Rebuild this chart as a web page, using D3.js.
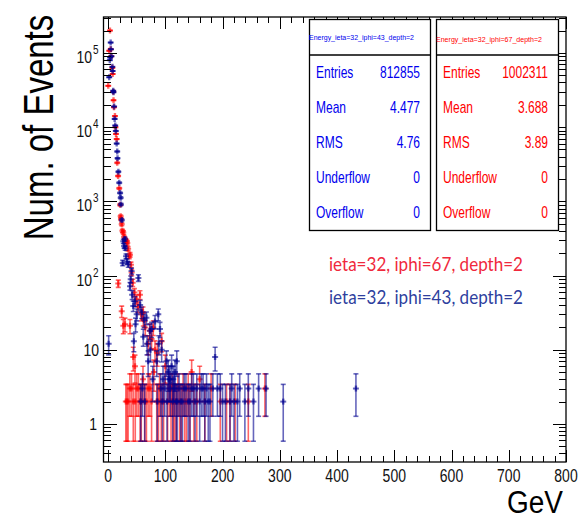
<!DOCTYPE html>
<html><head><meta charset="utf-8">
<script src="https://cdn.jsdelivr.net/npm/d3@7"></script>
<style>body{margin:0;background:#fff}svg{display:block}</style>
</head><body><svg id="c" width="580" height="519"></svg>
<script>
// ---------- data ----------
const xMajorTicks = [0,100,200,300,400,500,600,700,800];
const yMajorTicks = [1,10,100,1000,10000,100000];
const yTickExp = ["","","2","3","4","5"];
const yTickBase = ["1","10","10","10","10","10"];

const blueE = [1,2,3,3.5,4.5,5,6,7.5,8,9,9.5,10.5,11.5,12.5,13.5,15,16,16.5,18,19.5,21,22,22.5,24,25.5,26.6,28,29.5,30,31.3,33,35.3,38.3,39.5,41,42,44,45,47,48,50,53,56,58.7,61.5,63,67,68,70,73,74,76,82,85,87.7,88.5,90.7,93.6,96,102,105,108,111,114,117,120,
  57,60,64,78,86,92,95,99,103,106,109,113,116,119,121,124,127,130,133,136,140,143,146,149,152,155,160,163,166,169,172,175,178,183,187,191,196,200,205,213,216,220,226,230,239,245,254,263,276,306,433];
const blueN = [12,47000,80000,87000,138000,112000,90000,65000,57000,31000,29500,19000,12900,10500,8900,6000,4700,3800,2500,1780,1300,1120,910,560,148,290,250,310,234,182,155,141,72,89,115,55,39,13,45,22,30,93,40,32,15,25,27,12,7,18,10,19,24,7,30,12,19,10,4,7,5,4,6,4,5,7,
  2,3,2,4,2,3,2,3,2,4,3,2,3,2,2,3,2,2,3,3,2,2,3,3,2,3,2,3,3,2,3,2,2,3,8,3,3,2,2,2,3,2,2,3,2,3,2,3,3,2,3];

const redE = [0.3,2,3.3,4.5,5.5,7.5,8,9,9.5,10.3,12,13,13.8,15,16,17.5,19.5,21,22,22.5,23.8,25,26.6,28,30,32.5,33.5,35,37,38.3,40,41.2,43,46,49.5,52,55.7,58,61,61.5,65,70,73,76,79,82,86,93.6,
  17.8,23.8,26.6,29.5,38.3,44,47,
  31,33,35,38,41,44,47.5,50,53,56,58,61,64,67,70,73,76,80,85,88,90,93,97,100,104,107,110,112,114,116,119,122,125,128,131,134,137,140,143,146,150,155,160,169,180,196,207,213,222,245,274];
const redN = [36000,107000,200000,112000,90000,63000,52000,30000,23000,18600,14100,10000,8100,6900,3300,2200,1500,900,630,575,490,400,380,330,300,290,275,230,182,190,140,110,80,59,48,38,55,30,32,26,20,12,18,14,20,10,9,13,
  78,33,21,22,21,8,6,
  2,2,2,3,3,2,2,3,3,2,2,4,2,2,3,3,2,5,2,2,3,2,2,6,2,3,2,3,2,2,2,3,2,2,3,2,2,3,2,5,2,2,4,2,3,2,2,2,2,2,3];

const statLabels = ["Entries","Mean","RMS","Underflow","Overflow"];
const blueStats = ["812855","4.477","4.76","0","0"];
const redStats = ["1002311","3.688","3.89","0","0"];
const blueTitle = "Energy_ieta=32_iphi=43_depth=2";
const redTitle = "Energy_ieta=32_iphi=67_depth=2";
const legendRed = "ieta=32, iphi=67, depth=2";
const legendBlue = "ieta=32, iphi=43, depth=2";
const xTitle = "GeV";
const yTitle = "Num. of Events";

// ---------- layout ----------
const L = 103.5, R = 566, T = 17, B = 462;
const svg = d3.select("#c");
const x = d3.scaleLinear().domain([-8, 800]).range([L, R]);
const y = d3.scaleLog().domain([0.307, 3.05e5]).range([B, T]);
const FONT = "'Liberation Sans', Arial, sans-serif";

svg.append("defs").append("clipPath").attr("id","clip")
  .append("rect").attr("x",L).attr("y",T).attr("width",R-L).attr("height",B-T);

// ---------- data marks ----------
function drawSeries(E, N, color, op) {
  const g = svg.append("g").attr("clip-path","url(#clip)")
    .attr("stroke", color).attr("stroke-opacity", op).attr("fill","none");
  E.forEach((e, i) => {
    const n = N[i], s = Math.sqrt(n);
    const cx = x(e), cy = y(n);
    const yh = y(n + s);
    const yl = (n - s) > 0 ? y(n - s) : B + 10;
    const bar = n > 200 ? 2.2 : 1.6;
    g.append("line").attr("x1",cx).attr("x2",cx).attr("y1",yh).attr("y2",yl).attr("stroke-width",bar);
    g.append("line").attr("x1",cx-2.5).attr("x2",cx+2.5).attr("y1",yh).attr("y2",yh).attr("stroke-width",1.6);
    if (n - s > 0) g.append("line").attr("x1",cx-2.5).attr("x2",cx+2.5).attr("y1",yl).attr("y2",yl).attr("stroke-width",1.6);
    g.append("line").attr("x1",cx-3).attr("x2",cx+3).attr("y1",cy).attr("y2",cy).attr("stroke-width",2);
    g.append("line").attr("x1",cx).attr("x2",cx).attr("y1",cy-3).attr("y2",cy+3).attr("stroke-width",2.4);
  });
}
drawSeries(redE, redN, "#ff0000", 0.6);
drawSeries(blueE, blueN, "#000090", 0.6);

// ---------- axes ----------
const xMinor = d3.range(0, 801, 20).filter(v => v % 100 !== 0);
const yMinor = [];
for (let p = -1; p <= 5; p++) for (let k = 2; k <= 9; k++) {
  const v = k * Math.pow(10, p);
  if (v > y.domain()[0] && v < y.domain()[1]) yMinor.push(v);
}
function styleAxis(g) {
  g.select(".domain").remove();
  g.selectAll(".tick line").attr("stroke","#000").attr("stroke-width",1).attr("shape-rendering","crispEdges");
  g.selectAll(".tick text").remove();
}
svg.append("g").attr("transform",`translate(0,${B})`).call(d3.axisTop(x).tickValues(xMajorTicks).tickSize(12)).call(styleAxis);
svg.append("g").attr("transform",`translate(0,${B})`).call(d3.axisTop(x).tickValues(xMinor).tickSize(6)).call(styleAxis);
svg.append("g").attr("transform",`translate(0,${T})`).call(d3.axisBottom(x).tickValues(xMajorTicks).tickSize(12)).call(styleAxis);
svg.append("g").attr("transform",`translate(0,${T})`).call(d3.axisBottom(x).tickValues(xMinor).tickSize(6)).call(styleAxis);
svg.append("g").attr("transform",`translate(${L},0)`).call(d3.axisRight(y).tickValues(yMajorTicks).tickSize(13)).call(styleAxis);
svg.append("g").attr("transform",`translate(${L},0)`).call(d3.axisRight(y).tickValues(yMinor).tickSize(7)).call(styleAxis);
svg.append("g").attr("transform",`translate(${R},0)`).call(d3.axisLeft(y).tickValues(yMajorTicks).tickSize(13)).call(styleAxis);
svg.append("g").attr("transform",`translate(${R},0)`).call(d3.axisLeft(y).tickValues(yMinor).tickSize(7)).call(styleAxis);

svg.append("rect").attr("x",L).attr("y",T).attr("width",R-L).attr("height",B-T)
  .attr("fill","none").attr("stroke","#000").attr("stroke-width",1.3);

// x tick labels
xMajorTicks.forEach(v => {
  svg.append("text").attr("transform",`translate(${x(v)},482) scale(1,1.35)`)
    .attr("text-anchor","middle").attr("font-family",FONT).attr("font-size",14).attr("fill","#111").text(v);
});
// y tick labels
yMajorTicks.forEach((v, i) => {
  const ty = y(v);
  if (yTickExp[i] === "") {
    svg.append("text").attr("transform",`translate(${i===0?97:99},${ty+6}) scale(1,1.2)`)
      .attr("text-anchor","end").attr("font-family",FONT).attr("font-size",14).attr("fill","#111").text(yTickBase[i]);
  } else {
    svg.append("text").attr("transform",`translate(92,${ty+10}) scale(1,1.2)`)
      .attr("text-anchor","end").attr("font-family",FONT).attr("font-size",14).attr("fill","#111").text(yTickBase[i]);
    svg.append("text").attr("transform",`translate(93,${ty+1}) scale(1,1.2)`)
      .attr("text-anchor","start").attr("font-family",FONT).attr("font-size",10).attr("fill","#111").text(yTickExp[i]);
  }
});

// axis titles
svg.append("text").attr("transform","translate(53,127.5) rotate(-90) scale(1,1.27)")
  .attr("text-anchor","middle").attr("font-family",FONT).attr("font-size",33).attr("fill","#000").text(yTitle);
svg.append("text").attr("transform","translate(563,512.5) scale(1,1.1)")
  .attr("text-anchor","end").attr("font-family",FONT).attr("font-size",28).attr("fill","#000").text(xTitle);

// ---------- stats boxes ----------
function statBox(x0, w, title, tcx, tcy, tlen, vals, color) {
  const g = svg.append("g");
  g.append("rect").attr("x",x0).attr("y",19.5).attr("width",w).attr("height",211)
    .attr("fill","#fff").attr("stroke","#000").attr("stroke-width",1.3);
  g.append("line").attr("x1",x0).attr("x2",x0+w).attr("y1",55).attr("y2",55).attr("stroke","#000").attr("stroke-width",1.3);
  g.append("text").attr("x",tcx).attr("y",tcy+2.5).attr("text-anchor","middle")
    .attr("font-family",FONT).attr("font-size",7).attr("fill",color)
    .attr("textLength",tlen).attr("lengthAdjust","spacingAndGlyphs").text(title);
  const base = [77.5, 113, 148, 183, 218];
  statLabels.forEach((lab, i) => {
    g.append("text").attr("transform",`translate(${x0+6.5},${base[i]}) scale(1,1.38)`)
      .attr("font-family",FONT).attr("font-size",12).attr("fill",color).text(lab);
    g.append("text").attr("transform",`translate(${x0+w-10.5},${base[i]}) scale(1,1.38)`)
      .attr("text-anchor","end").attr("font-family",FONT).attr("font-size",12).attr("fill",color).text(vals[i]);
  });
}
statBox(309.5, 121, blueTitle, 361.5, 37.7, 105, blueStats, "#0000ee");
statBox(436.5, 122, redTitle, 489, 39, 106, redStats, "#ff0000");

// ---------- legend text ----------
svg.append("text").attr("x",329).attr("y",270.5).attr("font-family","Lato, 'Open Sans', sans-serif")
  .attr("font-size",19).attr("fill","#f0283c").attr("textLength",194).attr("lengthAdjust","spacingAndGlyphs").text(legendRed);
svg.append("text").attr("x",329).attr("y",304).attr("font-family","Lato, 'Open Sans', sans-serif")
  .attr("font-size",19).attr("fill","#2e3f9e").attr("textLength",194).attr("lengthAdjust","spacingAndGlyphs").text(legendBlue);
</script>
</body></html>
